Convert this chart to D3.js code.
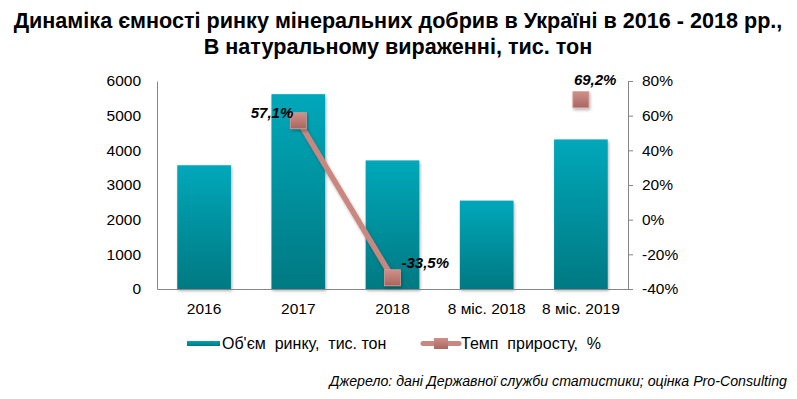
<!DOCTYPE html>
<html>
<head>
<meta charset="utf-8">
<script src="https://d3js.org/d3.v7.min.js"></script>
<style>
  body { margin: 0; background: #fff; }
  svg { display: block; }
  .tick text { font-family: "Liberation Sans", Arial, sans-serif; font-size: 15.5px; fill: #000; }
  .lbl { font-family: "Liberation Sans", Arial, sans-serif; font-size: 16px; fill: #000; }
  .title { font-family: "Liberation Sans", Arial, sans-serif; font-weight: bold; font-size: 21.6px; fill: #000; }
  .value { font-family: "Liberation Sans", Arial, sans-serif; font-weight: bold; font-style: italic; font-size: 15px; fill: #000; }
  .source { font-family: "Liberation Sans", Arial, sans-serif; font-style: italic; font-size: 14.2px; fill: #000; }
</style>
</head>
<body>
<svg width="797" height="399"></svg>
<script>
const categories = ['2016', '2017', '2018', '8 міс. 2018', '8 міс. 2019'];
const volume = [3570, 5620, 3710, 2550, 4315];
const growth = [null, 57.1, -33.5, null, 69.2];
const growthLabels = ['', '57,1%', '-33,5%', '', '69,2%'];
const leftTicks = [0, 1000, 2000, 3000, 4000, 5000, 6000];
const rightTicks = [-40, -20, 0, 20, 40, 60, 80];

const svg = d3.select('svg');

const defs = svg.append('defs');
const barGrad = defs.append('linearGradient')
    .attr('id', 'barGrad').attr('x1', 0).attr('y1', 0).attr('x2', 0).attr('y2', 1);
barGrad.append('stop').attr('offset', '0%').attr('stop-color', '#00a8ba');
barGrad.append('stop').attr('offset', '100%').attr('stop-color', '#007982');

const legGrad = defs.append('linearGradient')
    .attr('id', 'legGrad').attr('x1', 0).attr('y1', 0).attr('x2', 0).attr('y2', 1);
legGrad.append('stop').attr('offset', '0%').attr('stop-color', '#00a2b3');
legGrad.append('stop').attr('offset', '100%').attr('stop-color', '#007982');

const mkGrad = defs.append('linearGradient')
    .attr('id', 'mkGrad').attr('x1', 0).attr('y1', 0).attr('x2', 0).attr('y2', 1);
mkGrad.append('stop').attr('offset', '0%').attr('stop-color', '#d0908a');
mkGrad.append('stop').attr('offset', '100%').attr('stop-color', '#a86660');

const shadow = defs.append('filter').attr('id', 'shadow')
    .attr('x', '-30%').attr('y', '-30%').attr('width', '160%').attr('height', '160%');
shadow.append('feDropShadow').attr('dx', 1).attr('dy', 2).attr('stdDeviation', 1.5)
    .attr('flood-color', '#000').attr('flood-opacity', 0.3);

const plotLeft = 157, plotRight = 628, plotTop = 81, plotBottom = 289;

const x = d3.scaleBand()
    .domain(categories)
    .range([plotLeft, plotRight])
    .paddingInner(0.43)
    .paddingOuter(0.215);

const y = d3.scaleLinear().domain([0, 6000]).range([plotBottom, plotTop]);
const y2 = d3.scaleLinear().domain([-40, 80]).range([plotBottom, plotTop]);
const cx = i => x(categories[i]) + x.bandwidth() / 2;

// title
svg.append('text').attr('class', 'title')
    .attr('x', 398).attr('y', 28).attr('text-anchor', 'middle')
    .text('Динаміка ємності ринку мінеральних добрив в Україні в 2016 - 2018 рр.,');
svg.append('text').attr('class', 'title')
    .attr('x', 398).attr('y', 54).attr('text-anchor', 'middle')
    .text('В натуральному вираженні, тис. тон');

// bars
svg.append('g').selectAll('rect')
    .data(volume)
    .enter()
    .append('rect')
    .attr('x', (d, i) => x(categories[i]))
    .attr('y', d => y(d))
    .attr('width', x.bandwidth())
    .attr('height', d => plotBottom - y(d))
    .attr('fill', 'url(#barGrad)')
    .attr('filter', 'url(#shadow)');

// axes
const leftAxis = svg.append('g')
    .attr('transform', `translate(${plotLeft},0)`)
    .call(d3.axisLeft(y).tickValues(leftTicks).tickSize(0).tickPadding(16).tickFormat(d3.format('d')));
leftAxis.select('.domain').attr('stroke', '#868686');

const rightAxis = svg.append('g')
    .attr('transform', `translate(${plotRight},0)`)
    .call(d3.axisRight(y2).tickValues(rightTicks).tickSize(5).tickSizeOuter(5).tickPadding(9).tickFormat(d => d + '%'));
rightAxis.selectAll('line, .domain').attr('stroke', '#868686');

const bottomAxis = svg.append('g')
    .attr('transform', `translate(0,${plotBottom})`)
    .call(d3.axisBottom(x).tickSize(0).tickPadding(14));
bottomAxis.select('.domain').attr('stroke', '#868686');

// growth line, only between consecutive defined points
svg.append('path')
    .datum(growth)
    .attr('d', d3.line()
        .defined(d => d !== null)
        .x((d, i) => cx(i))
        .y(d => y2(d)))
    .attr('fill', 'none')
    .attr('stroke', '#c9877f')
    .attr('stroke-width', 5.5)
    .attr('filter', 'url(#shadow)');

const pts = growth.map((g, i) => ({ g, i })).filter(p => p.g !== null);

svg.append('g').selectAll('rect')
    .data(pts)
    .enter()
    .append('rect')
    .attr('x', p => cx(p.i) - 8)
    .attr('y', p => y2(p.g) - 8)
    .attr('width', 16)
    .attr('height', 16)
    .attr('fill', 'url(#mkGrad)')
    .attr('stroke', '#d79a94')
    .attr('stroke-width', 0.8)
    .attr('filter', 'url(#shadow)');

// value labels
const labelPos = { 1: [-5, -3, 'end'], 2: [9, -10, 'start'], 4: [-7, -15, 'start'] };
svg.append('g').selectAll('text')
    .data(pts)
    .enter()
    .append('text')
    .attr('class', 'value')
    .attr('x', p => cx(p.i) + labelPos[p.i][0])
    .attr('y', p => y2(p.g) + labelPos[p.i][1])
    .attr('text-anchor', p => labelPos[p.i][2])
    .text(p => growthLabels[p.i]);

// legend
svg.append('rect').attr('x', 187).attr('y', 341).attr('width', 33).attr('height', 5)
    .attr('fill', 'url(#legGrad)');
svg.append('text').attr('class', 'lbl').attr('x', 222).attr('y', 349)
    .attr('xml:space', 'preserve')
    .text("Об'єм  ринку,  тис. тон");

svg.append('line').attr('x1', 423).attr('x2', 459).attr('y1', 343.5).attr('y2', 343.5)
    .attr('stroke', '#c9877f').attr('stroke-width', 5).attr('stroke-linecap', 'round');
svg.append('rect').attr('x', 434).attr('y', 338).attr('width', 14).attr('height', 11)
    .attr('fill', 'url(#mkGrad)');
svg.append('text').attr('class', 'lbl').attr('x', 461).attr('y', 349)
    .attr('xml:space', 'preserve')
    .text('Темп  приросту,  %');

// source
svg.append('text').attr('class', 'source')
    .attr('x', 787).attr('y', 386).attr('text-anchor', 'end')
    .text('Джерело: дані Державної служби статистики; оцінка Pro-Consulting');
</script>
</body>
</html>
